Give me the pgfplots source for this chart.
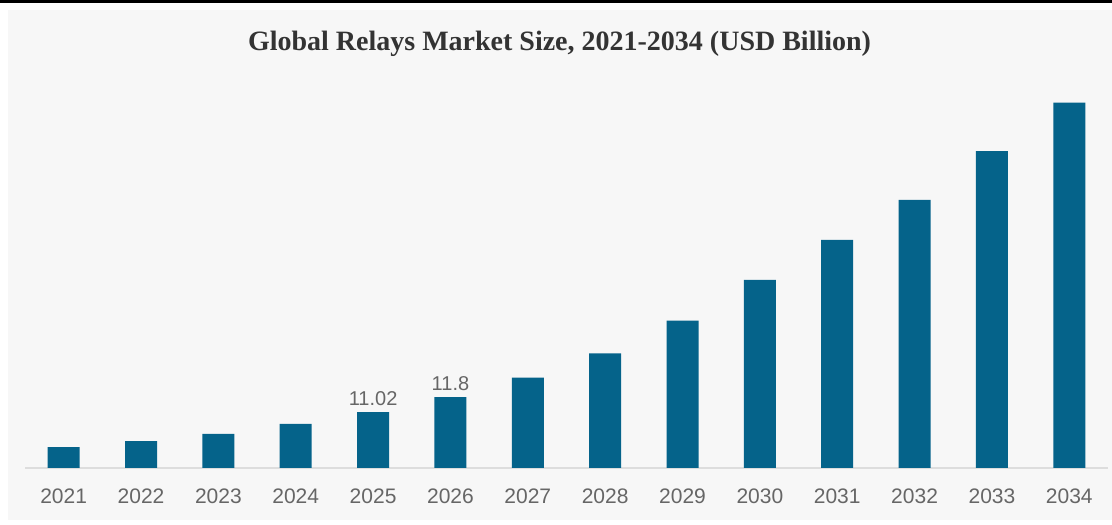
\documentclass[border=0pt]{standalone}
\usepackage{pgfplots}
\pgfplotsset{compat=1.18}
\usepackage{fontspec}
\setmainfont{Liberation Sans}
\newfontfamily\titlefont{Liberation Serif}
\definecolor{barcol}{HTML}{05638A}
\definecolor{panel}{HTML}{F7F7F7}
\definecolor{ticktext}{HTML}{666666}
\definecolor{titletext}{HTML}{333333}
\definecolor{basecol}{HTML}{DDDDDD}
\begin{document}
\begin{tikzpicture}[x=1pt,y=1pt]
  % page, panel, top rule
  \fill[white] (0,0) rectangle (1112,525);
  \fill[panel] (8,5) rectangle (1112,515);
  \fill[black] (0,522) rectangle (1112,525);
  \node[font=\titlefont\bfseries\fontsize{28}{32}\selectfont, text=titletext] at (559.5,481) {Global Relays Market Size, 2021-2034 (USD Billion)};
  \begin{axis}[
    at={(25pt,57pt)}, anchor=south west,
    scale only axis,
    width=1083pt, height=380pt,
    xmin=2020.5, xmax=2034.5,
    ymin=8.12, ymax=27.88,
    axis y line=none,
    axis x line*=bottom,
    x axis line style={draw=basecol, line width=1.5pt, -},
    xtick=data,
    xticklabels={2021,2022,2023,2024,2025,2026,2027,2028,2029,2030,2031,2032,2033,2034},
    xtick style={draw=none},
    xticklabel style={font=\fontsize{21}{25}\selectfont, text=ticktext, yshift=-17pt},
    ytick=\empty,
    nodes near coords,
    point meta=explicit symbolic,
    nodes near coords style={font=\fontsize{20}{24}\selectfont, text=ticktext, yshift=3pt},
  ]
    \addplot[ybar, bar width=32pt, fill=barcol, draw=none] coordinates {
      (2021,9.21) []
      (2022,9.52) []
      (2023,9.89) []
      (2024,10.41) []
      (2025,11.02) [11.02]
      (2026,11.80) [11.8]
      (2027,12.82) []
      (2028,14.08) []
      (2029,15.78) []
      (2030,17.90) []
      (2031,19.98) []
      (2032,22.06) []
      (2033,24.60) []
      (2034,27.12) []
    };
  \end{axis}
\end{tikzpicture}
\end{document}
